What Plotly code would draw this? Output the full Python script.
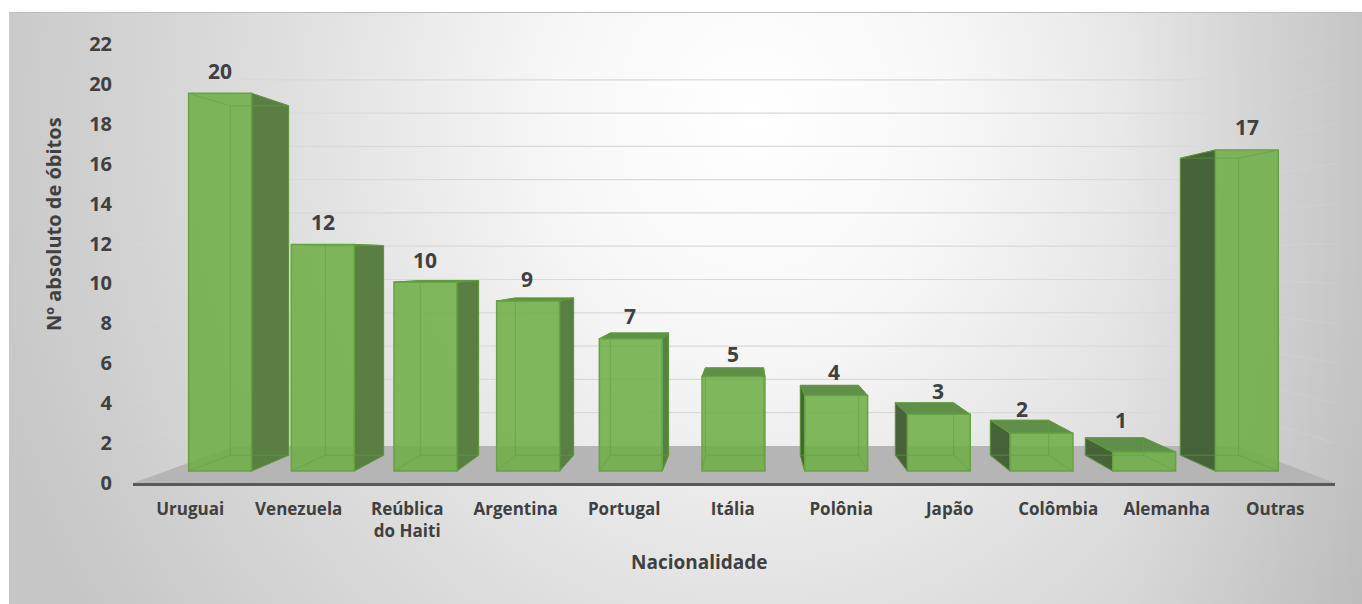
import base64
import plotly.graph_objects as go

categories = ["Uruguai", "Venezuela", "Reública<br>do Haiti", "Argentina", "Portugal", "Itália",
              "Polônia", "Japão", "Colômbia", "Alemanha", "Outras"]
values = [20, 12, 10, 9, 7, 5, 4, 3, 2, 1, 17]
y_ticks = list(range(0, 23, 2))
label_dx = [0, 0, 0, -1, -1, 0, -2, -1, -19, -23, 0]
label_dy = [22, 22, 22, 22, 23, 23, 23, 23, 24, 32, 23]

W, H = 1362, 604
L, R, T, B = 133, 1335, 44, 483
XSTEP, X0 = 108.5, 190.2
UX = (747 - X0) / XSTEP          # vanishing point in axis units
VY = (B - 259.6) / ((B - T) / 22)
T_FRONT, T_BACK, T_WALL = 0.0537, 0.1244, 0.166
HALF = 0.3065
x_range = [(L - X0) / XSTEP, (R - X0) / XSTEP]
n = list(range(len(values)))
FONT = "Open Sans"
TXT = "#404040"


def proj(u, v, t):
    return u + (UX - u) * t, v + (VY - v) * t


def to_front(p):
    return (p[0] - UX * T_FRONT) / (1 - T_FRONT), (p[1] - VY * T_FRONT) / (1 - T_FRONT)


def px(x):
    return (x - L) / (R - L)


def py(y):
    return (B - y) / (B - T)


def polys(items):
    xs, ys = [], []
    for pts in items:
        for p in pts:
            xs.append(p[0]); ys.append(p[1])
        xs.append(pts[0][0]); ys.append(pts[0][1])
        xs.append(None); ys.append(None)
    return xs, ys


def face(name, items, fill, line):
    xs, ys = polys(items)
    return go.Scatter(x=xs, y=ys, mode="lines", fill="toself", fillcolor=fill, name=name,
                      line=dict(color=line, width=1), hoverinfo="skip", showlegend=False,
                      xaxis="x", yaxis="y")


fig = go.Figure()

# floor
floor = [proj(x_range[0], 0, 0), proj(x_range[1], 0, 0), proj(x_range[1], 0, T_WALL), proj(x_range[0], 0, T_WALL)]
fig.add_trace(face("floor", [floor], "#b5b5b5", "rgba(0,0,0,0)"))

# gridlines on the side walls (faint) and on the back wall
sx, sy, gx, gy = [], [], [], []
for v in y_ticks[1:]:
    for a, b in [(proj(x_range[0], v, 0), proj(x_range[0], v, T_WALL)),
                 (proj(x_range[1], v, T_WALL), proj(x_range[1], v, 0))]:
        sx += [a[0], b[0], None]
        sy += [a[1], b[1], None]
    a, b = proj(x_range[0], v, T_WALL), proj(x_range[1], v, T_WALL)
    gx += [a[0], b[0], None]
    gy += [a[1], b[1], None]
fig.add_trace(go.Scatter(x=sx, y=sy, mode="lines", line=dict(color="rgba(217,217,217,0.3)", width=1),
                         hoverinfo="skip", showlegend=False))
fig.add_trace(go.Scatter(x=gx, y=gy, mode="lines", line=dict(color="#d9d9d9", width=1.2),
                         hoverinfo="skip", showlegend=False))

right_faces, left_faces, top_faces = [], [], []
for i, v in zip(n, values):
    l, r = i - HALF, i + HALF
    if r < UX:
        right_faces.append([proj(r, 0, T_FRONT), proj(r, v, T_FRONT), proj(r, v, T_BACK), proj(r, 0, T_BACK)])
    if l > UX:
        left_faces.append([proj(l, 0, T_FRONT), proj(l, v, T_FRONT), proj(l, v, T_BACK), proj(l, 0, T_BACK)])
    if v < VY:
        top_faces.append([proj(l, v, T_FRONT), proj(r, v, T_FRONT), proj(r, v, T_BACK), proj(l, v, T_BACK)])
fig.add_trace(face("lados direitos", right_faces, "#5a7f42", "#558a3a"))
fig.add_trace(face("lados esquerdos", left_faces, "#47633a", "#4f7f36"))
fig.add_trace(face("topos", top_faces, "#5f8f48", "#5b9440"))

# front faces: real bars on the front-plane axes
fig.add_trace(go.Bar(x=n, y=values, width=2 * HALF, xaxis="x2", yaxis="y2",
                     marker=dict(color="rgba(112,173,71,0.88)", line=dict(color="#66a342", width=1.5)),
                     hoverinfo="x+y", showlegend=False))

# edges seen through the translucent front
ex, ey = [], []
for i, v in zip(n, values):
    l, r = i - HALF, i + HALF
    corners = [proj(l, 0, T_BACK), proj(r, 0, T_BACK), proj(r, v, T_BACK), proj(l, v, T_BACK)]
    segs = [(corners[0], corners[1]), (corners[1], corners[2]), (corners[2], corners[3]), (corners[3], corners[0]),
            (proj(l, 0, T_FRONT), corners[0]), (proj(r, 0, T_FRONT), corners[1]),
            (proj(l, v, T_FRONT), corners[3]), (proj(r, v, T_FRONT), corners[2])]
    for a, b in segs:
        a, b = to_front(a), to_front(b)
        ex += [a[0], b[0], None]
        ey += [a[1], b[1], None]
fig.add_trace(go.Scatter(x=ex, y=ey, mode="lines", xaxis="x2", yaxis="y2",
                         line=dict(color="rgba(98,160,62,0.6)", width=1), hoverinfo="skip", showlegend=False))

# background image (SVG gradient)
svg = f'''<svg xmlns="http://www.w3.org/2000/svg" width="{W-9}" height="{H-12}" viewBox="0 0 {W-9} {H-12}">
<defs><radialGradient id="g" gradientUnits="userSpaceOnUse" cx="0" cy="0" r="1"
 gradientTransform="translate(745 105) scale(800 900)">
<stop offset="0" stop-color="#ffffff"/><stop offset="0.25" stop-color="#f7f7f7"/>
<stop offset="0.6" stop-color="#dedede"/><stop offset="1" stop-color="#c6c6c6"/></radialGradient>
<linearGradient id="d" x1="0" x2="1" y1="0" y2="0"><stop offset="0.82" stop-color="#000" stop-opacity="0"/>
<stop offset="1" stop-color="#000" stop-opacity="0.07"/></linearGradient></defs>
<rect width="100%" height="100%" fill="url(#g)"/><rect width="100%" height="100%" fill="url(#d)"/>
<rect width="100%" height="1" fill="#bdbdbd"/></svg>'''
src = "data:image/svg+xml;base64," + base64.b64encode(svg.encode()).decode()

annotations = []
for i, v, dx, dy in zip(n, values, label_dx, label_dy):
    annotations.append(dict(x=i, y=v, xref="x2", yref="y2", text=f"<b>{v}</b>", showarrow=False,
                            xshift=dx, yshift=dy, font=dict(family=FONT, size=21, color=TXT)))
annotations.append(dict(x=px(699), y=py(562), xref="paper", yref="paper", text="<b>Nacionalidade</b>",
                        xanchor="center", yanchor="middle", showarrow=False,
                        font=dict(family=FONT, size=19, color=TXT)))
annotations.append(dict(x=px(53), y=py(224), xref="paper", yref="paper", text="<b>Nº absoluto de óbitos</b>",
                        xanchor="center", yanchor="middle", textangle=-90, showarrow=False,
                        font=dict(family=FONT, size=20, color=TXT)))

fig.update_layout(
    width=W, height=H, margin=dict(l=L, r=W - R, t=T, b=H - B, pad=0),
    paper_bgcolor="white", plot_bgcolor="rgba(0,0,0,0)", showlegend=False, barmode="overlay",
    font=dict(family=FONT, color=TXT),
    images=[dict(source=src, xref="paper", yref="paper", x=px(9), y=py(12), sizex=(W - 9) / (R - L),
                 sizey=(H - 12) / (B - T), xanchor="left", yanchor="top", sizing="stretch", layer="below")],
    annotations=annotations,
    xaxis=dict(range=x_range, tickmode="array", tickvals=n, ticktext=categories, showgrid=False, zeroline=False,
               showline=True, linecolor="#595959", linewidth=2.5, ticks="", ticklabelstandoff=9,
               tickfont=dict(family=FONT, size=17, weight=700, color=TXT)),
    yaxis=dict(range=[0, 22], tickmode="array", tickvals=y_ticks, showgrid=False, zeroline=False, showline=False,
               ticks="", ticklabelstandoff=20, tickfont=dict(family=FONT, size=20, weight=700, color=TXT)),
    xaxis2=dict(overlaying="x", visible=False,
                range=[to_front((x_range[0], 0))[0], to_front((x_range[1], 0))[0]]),
    yaxis2=dict(overlaying="y", visible=False,
                range=[to_front((0, 0))[1], to_front((0, 22))[1]]),
)

fig.write_html("out.html", config={"displayModeBar": False},
               post_script="document.body.style.margin='0';document.documentElement.style.overflow='hidden';")
